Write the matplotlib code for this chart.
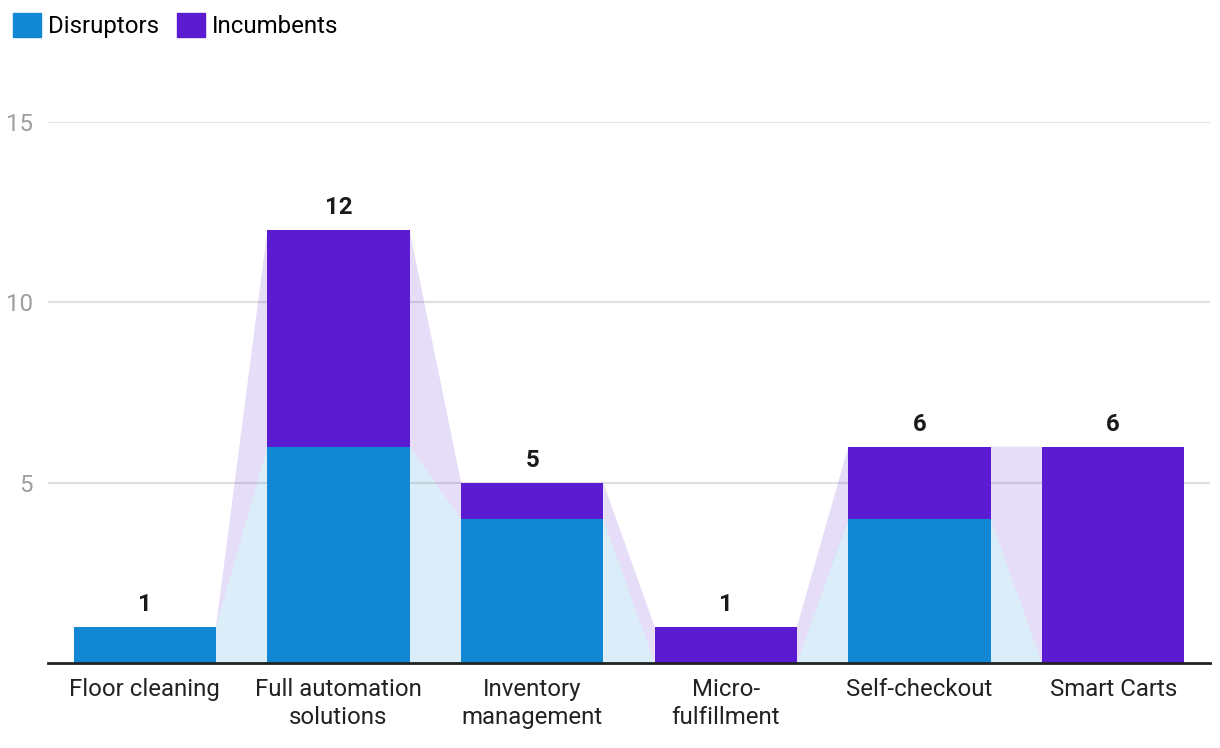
"""Stacked bars of disruptors vs incumbents per retail automation category."""

import matplotlib.pyplot as plt
import numpy as np
from matplotlib.patches import Patch

categories = [
    "Floor cleaning",
    "Full automation\nsolutions",
    "Inventory\nmanagement",
    "Micro-\nfulfillment",
    "Self-checkout",
    "Smart Carts",
]
disruptors = [1, 6, 4, 0, 4, 0]
incumbents = [0, 6, 1, 1, 2, 6]
y_ticks = [5, 10, 15]

BLUE = "#1287d4"
PURPLE = "#5a1bd1"
FS = 17.3

plt.rcParams["font.family"] = ["Roboto", "DejaVu Sans"]

x = np.arange(len(categories))
lower = np.array(disruptors, dtype=float)
upper = lower + np.array(incumbents, dtype=float)
width = 0.734
half = width / 2

fig = plt.figure(figsize=(12.2, 7.48), dpi=100)
ax = fig.add_axes([48 / 1220, 1 - 663 / 748, (1210 - 48) / 1220, (663 - 122) / 748])

# connector bands between neighbouring bars
for i in range(len(x) - 1):
    xs = [x[i] + half, x[i + 1] - half, x[i + 1] - half, x[i] + half]
    ax.fill(xs, [0, 0, lower[i + 1], lower[i]], color=BLUE, alpha=0.15,
            lw=0, zorder=2)
    ax.fill(xs, [lower[i], lower[i + 1], upper[i + 1], upper[i]],
            color=PURPLE, alpha=0.15, lw=0, zorder=2)

ax.bar(x, lower, width=width, color=BLUE, zorder=3)
ax.bar(x, incumbents, width=width, bottom=lower, color=PURPLE, zorder=3)

for xi, total in zip(x, upper):
    ax.annotate(f"{int(total)}", (xi, total), xytext=(0, 11.5),
                textcoords="offset points", ha="center", va="baseline",
                fontsize=FS, fontweight="bold", color="#1a1a1a")

ax.set_xlim(-0.5, len(x) - 0.5)
ax.set_ylim(0, 15)
ax.set_yticks(y_ticks)
ax.set_xticks(x)
ax.set_xticklabels(categories, fontsize=FS, color="#222222", linespacing=1.25)
ax.tick_params(axis="x", length=0, pad=11)
ax.tick_params(axis="y", length=0, pad=11, labelsize=FS, labelcolor="#9e9e9e")
ax.grid(axis="y", color="#e0e0e0", linewidth=1.5, zorder=0)
ax.set_axisbelow(True)
for side in ["top", "right", "left"]:
    ax.spines[side].set_visible(False)
ax.spines["bottom"].set_color("#222222")
ax.spines["bottom"].set_linewidth(2)
ax.spines["bottom"].set_zorder(4)

handles = [Patch(color=BLUE, label="Disruptors"),
           Patch(color=PURPLE, label="Incumbents")]
fig.legend(handles=handles, loc="upper left", bbox_to_anchor=(0.0, 1.0),
           ncol=2, frameon=False, fontsize=FS, handlelength=1.15,
           handleheight=1.15, handletextpad=0.3, columnspacing=0.75,
           borderaxespad=0.25, borderpad=0.3)

fig.savefig("out.png", dpi=100)
